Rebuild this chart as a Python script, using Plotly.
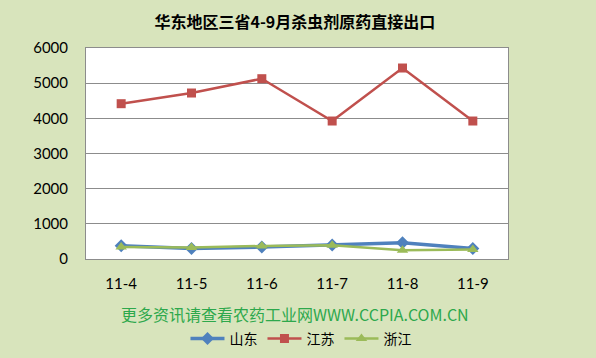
import plotly.graph_objects as go

categories = ["11-4", "11-5", "11-6", "11-7", "11-8", "11-9"]
shandong = [380, 300, 340, 400, 460, 300]
jiangsu = [4416, 4720, 5127, 3924, 5431, 3924]
zhejiang = [340, 330, 370, 390, 250, 270]
y_ticks = [0, 1000, 2000, 3000, 4000, 5000, 6000]

title_text = "华东地区三省4-9月杀虫剂原药直接出口"
note_text = "更多资讯请查看农药工业网WWW.CCPIA.COM.CN"

fig = go.Figure()
fig.add_trace(go.Scatter(
    x=categories, y=shandong, name="山东", mode="lines+markers",
    line=dict(color="#4F81BD", width=3.5),
    marker=dict(symbol="diamond", size=10, color="#4F81BD"),
))
fig.add_trace(go.Scatter(
    x=categories, y=jiangsu, name="江苏", mode="lines+markers",
    line=dict(color="#C0504D", width=2.5),
    marker=dict(symbol="square", size=9, color="#C0504D"),
))
fig.add_trace(go.Scatter(
    x=categories, y=zhejiang, name="浙江", mode="lines+markers",
    line=dict(color="#9BBB59", width=2.5),
    marker=dict(symbol="triangle-up", size=10, color="#9BBB59"),
))

fig.update_layout(
    width=596, height=358,
    margin=dict(l=86, r=88, t=48, b=99),
    paper_bgcolor="#D8E4BC",
    plot_bgcolor="#FFFFFF",
    title=dict(
        text="<b>" + title_text + "</b>",
        x=0.495, xref="paper", y=1 - 22 / 358, yref="container", yanchor="middle",
        font=dict(family="Noto Sans CJK SC", size=16, color="#000000"),
    ),
    font=dict(family="Lato, Noto Sans CJK SC", size=14, color="#000000"),
    showlegend=True,
    legend=dict(
        orientation="h", x=0.505, xanchor="center", xref="container",
        y=1 - 339 / 358, yanchor="middle", yref="container",
        font=dict(family="Noto Sans CJK SC", size=14, color="#000000"),
        itemwidth=34, bgcolor="rgba(0,0,0,0)",
        tracegroupgap=0, itemclick=False,
    ),
    annotations=[dict(
        text=note_text, xref="paper", yref="paper", x=0.495, y=-0.262,
        xanchor="center", yanchor="middle", showarrow=False,
        font=dict(family="Noto Sans CJK SC", size=16, color="#2DA84C"),
    )],
)

fig.update_xaxes(
    type="category", range=[-0.5, 5.5],
    showgrid=False, showline=True, linecolor="#8C8C8C", linewidth=1,
    mirror=True, ticks="outside", ticklen=11, tickcolor="rgba(0,0,0,0)",
    tickfont=dict(family="Lato", size=15, color="#000000"),
)
fig.update_yaxes(
    range=[0, 6000], tickvals=y_ticks,
    showgrid=True, gridcolor="#8C8C8C", gridwidth=1,
    showline=True, linecolor="#8C8C8C", linewidth=1, mirror=True,
    ticks="outside", ticklen=14, tickcolor="rgba(0,0,0,0)",
    tickfont=dict(family="Lato", size=15, color="#000000"),
    zeroline=False,
)

fig.write_html("out.html")
